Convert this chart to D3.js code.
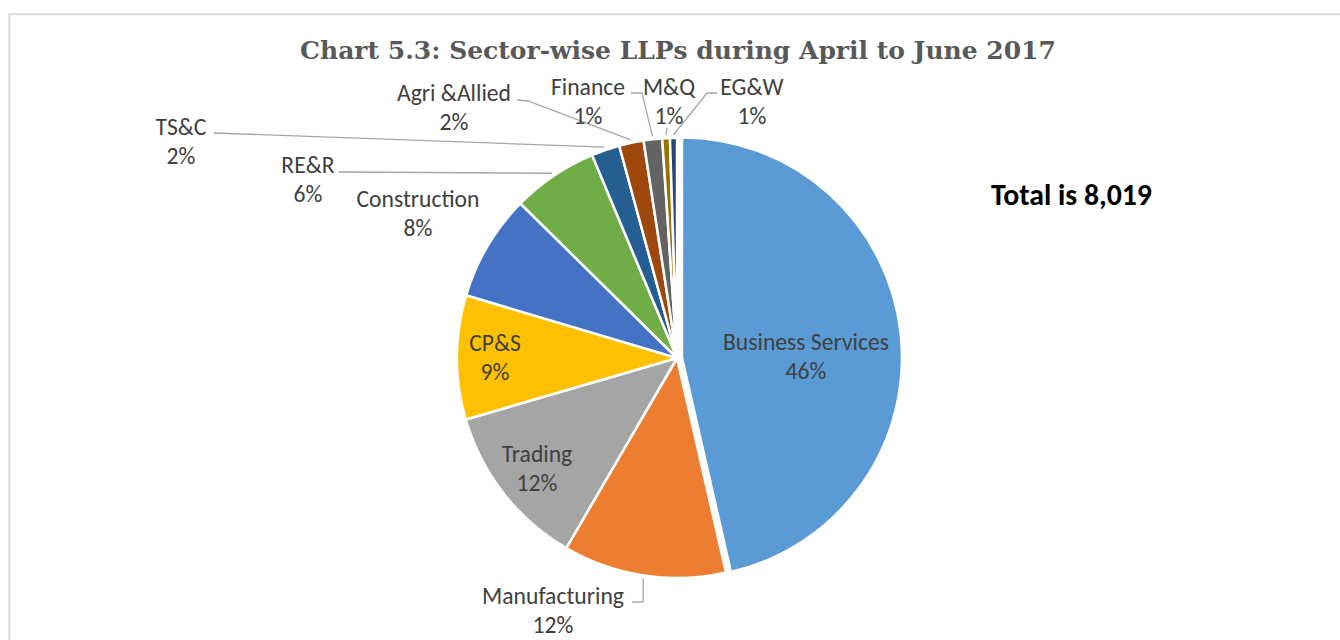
<!DOCTYPE html>
<html><head><meta charset="utf-8">
<script src="https://cdn.jsdelivr.net/npm/d3@7"></script>
<style>body{margin:0;background:#fff} svg{display:block}</style>
</head><body>
<svg id="c" width="1340" height="640"></svg>
<script>
// ---- data ----
const sectors = ["Business Services","Manufacturing","Trading","CP&S","Construction","RE&R","TS&C","Agri &Allied","Finance","M&Q","EG&W"];
const llpCounts = [3723, 960, 970, 730, 625, 505, 167, 144, 109, 45, 41];
const sectorColors = ["#5B9BD5","#ED7D31","#A5A5A5","#FFC000","#4472C4","#70AD47","#255E91","#9E480E","#636363","#997300","#264478"];
const titleText = "Chart 5.3: Sector-wise LLPs during April to June 2017";
const totalPrefix = "Total is ";

// ---- layout ----
const cx = 677, cy = 358, R = 220;
const explodeName = "Business Services", explodeDist = 5;
const labelLayout = {
  "Business Services": {x: 806, y: 350},
  "Manufacturing":     {x: 553, y: 604, leader: [[632, 602], [643, 602]]},
  "Trading":           {x: 537, y: 462},
  "CP&S":              {x: 495, y: 351},
  "Construction":      {x: 418, y: 207},
  "RE&R":              {x: 308, y: 173, leader: [[339, 172]]},
  "TS&C":              {x: 181, y: 135, leader: [[214, 133]]},
  "Agri &Allied":      {x: 454, y: 101, leader: [[517, 100], [528, 101]]},
  "Finance":           {x: 588, y: 95,  leader: [[631, 93], [642, 93]]},
  "M&Q":               {x: 669, y: 95,  leader: [[667, 128]]},
  "EG&W":              {x: 752, y: 95,  leader: [[717, 93], [707, 93]]}
};
const lineGap = 29;
const labelFont = "Carlito, Calibri, Lato, 'Open Sans', sans-serif";

const svg = d3.select("#c");
const data = sectors.map((s, i) => ({name: s, value: llpCounts[i], color: sectorColors[i]}));
const total = d3.sum(llpCounts);

// frame
svg.append("rect").attr("x", 9.3).attr("y", 14.3).attr("width", 1400).attr("height", 700)
  .attr("fill", "none").attr("stroke", "#D9D9D9").attr("stroke-width", 2);

// title
const title = svg.append("text").attr("x", 678).attr("y", 59).attr("text-anchor", "middle")
  .attr("font-family", "'DejaVu Serif', serif").attr("font-weight", "bold")
  .attr("font-size", 22).attr("fill", "#595959").text(titleText);
function fit(sel, target) {
  const w = sel.node().getComputedTextLength();
  const fs = parseFloat(sel.attr("font-size"));
  sel.attr("font-size", fs * target / w);
}
fit(title, 756);

// pie
const pie = d3.pie().sort(null).value(d => d.value);
const arcs = pie(data);
const arc = d3.arc().innerRadius(0).outerRadius(R);
const g = svg.append("g").attr("transform", `translate(${cx},${cy})`);
g.selectAll("path").data(arcs).join("path")
  .attr("d", arc)
  .attr("fill", d => d.data.color)
  .attr("stroke", "#fff").attr("stroke-width", 2.5).attr("stroke-linejoin", "round")
  .attr("transform", d => {
    if (d.data.name !== explodeName) return null;
    const a = (d.startAngle + d.endAngle) / 2;
    return `translate(${explodeDist * Math.sin(a)},${-explodeDist * Math.cos(a)})`;
  });

// measure label font size so that "Business Services" spans 166px
const probe = svg.append("text").attr("font-family", labelFont).attr("font-size", 20).text("Business Services");
const pw = probe.node().getComputedTextLength();
const labelSize = 20 * 166 / pw;
probe.remove();

const pct = d => Math.round(d.value / total * 100) + "%";

// leaders
arcs.forEach(d => {
  const L = labelLayout[d.data.name];
  if (!L.leader) return;
  const a = (d.startAngle + d.endAngle) / 2;
  const end = [cx + (R + 3) * Math.sin(a), cy - (R + 3) * Math.cos(a)];
  const pts = L.leader.concat([end]);
  svg.append("polyline").attr("points", pts.map(p => p.join(",")).join(" "))
    .attr("fill", "none").attr("stroke", "#A6A6A6").attr("stroke-width", 1.3);
});

// labels
arcs.forEach(d => {
  const L = labelLayout[d.data.name];
  const t = svg.append("text").attr("text-anchor", "middle")
    .attr("font-family", labelFont).attr("font-size", labelSize).attr("fill", "#404040");
  t.append("tspan").attr("x", L.x).attr("y", L.y).text(d.data.name);
  t.append("tspan").attr("x", L.x).attr("y", L.y + lineGap).text(pct(d));
});

// total
const tot = svg.append("text").attr("x", 991).attr("y", 205)
  .attr("font-family", labelFont).attr("font-weight", "bold").attr("font-size", 24)
  .attr("fill", "#000").text(totalPrefix + d3.format(",")(total));
fit(tot, 161);
</script>
</body></html>
